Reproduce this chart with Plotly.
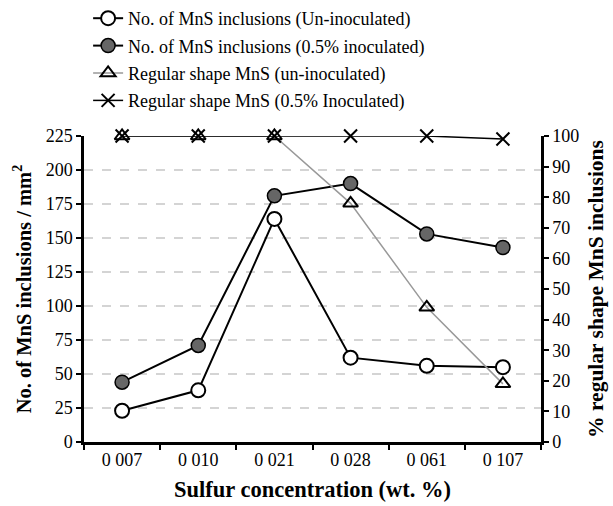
import plotly.graph_objects as go

categories = ["0 007", "0 010", "0 021", "0 028", "0 061", "0 107"]
mns_uninoc = [23, 38, 164, 62, 56, 55]
mns_inoc = [44, 71, 181, 190, 153, 143]
regular_uninoc = [100, 100, 100, 78, 44, 19]
regular_inoc = [100, 100, 100, 100, 100, 99]

names = [
    "No. of MnS inclusions (Un-inoculated)",
    "No. of MnS inclusions (0.5% inoculated)",
    "Regular shape MnS (un-inoculated)",
    "Regular shape MnS (0.5% Inoculated)",
]

serif = "'Liberation Serif', 'DejaVu Serif', 'Noto Serif', Tinos, 'Times New Roman', Times, serif"

fig = go.Figure()
fig.add_trace(go.Scatter(
    x=categories, y=mns_uninoc, name=names[0], mode="lines+markers",
    line=dict(color="black", width=2),
    marker=dict(symbol="circle", size=14, color="white", line=dict(color="black", width=2)),
    cliponaxis=False, legendgroup="a", yaxis="y"))
fig.add_trace(go.Scatter(
    x=categories, y=mns_inoc, name=names[1], mode="lines+markers",
    line=dict(color="black", width=2),
    marker=dict(symbol="circle", size=14, color="#666666", line=dict(color="black", width=1.5)),
    cliponaxis=False, legendgroup="b", yaxis="y"))
fig.add_trace(go.Scatter(
    x=categories, y=regular_uninoc, name=names[2], mode="lines+markers",
    line=dict(color="#999999", width=1.5),
    marker=dict(symbol="triangle-up-open", size=13, color="black", line=dict(color="black", width=2)),
    cliponaxis=False, legendgroup="c", yaxis="y2"))
fig.add_trace(go.Scatter(
    x=categories, y=regular_inoc, name=names[3], mode="lines+markers",
    line=dict(color="black", width=1.5),
    marker=dict(symbol="x-thin", size=13, color="black", line=dict(color="black", width=2)),
    cliponaxis=False, legendgroup="d", yaxis="y2"))

fig.update_layout(
    width=613, height=506,
    margin=dict(l=84, r=72, t=136, b=64, autoexpand=False),
    paper_bgcolor="white", plot_bgcolor="white",
    font=dict(family=serif, size=18, color="black"),
    showlegend=True,
    legend=dict(x=0.009, y=1.0, xanchor="left", yanchor="top", yref="container",
                font=dict(family=serif, size=18, color="black"),
                tracegroupgap=1, itemwidth=30, bgcolor="rgba(0,0,0,0)"),
    xaxis=dict(
        type="category", range=[-0.5, 5.5],
        showline=True, linecolor="black", linewidth=2.5,
        ticks="outside", tickson="boundaries", ticklen=5, tickwidth=2, tickcolor="black",
        showgrid=False, zeroline=False,
        tickfont=dict(family=serif, size=18),
        title=dict(text="<b>Sulfur concentration (wt. %)</b>", font=dict(family=serif, size=22.5), standoff=12),
    ),
    yaxis=dict(
        range=[0, 225], dtick=25, tick0=0,
        showline=True, linecolor="black", linewidth=2.5,
        ticks="outside", ticklen=5, tickwidth=2, tickcolor="black",
        showgrid=True, gridcolor="#d4d4d4", griddash="dash", gridwidth=1.5,
        zeroline=False,
        tickfont=dict(family=serif, size=18),
        title=dict(text="<b>No. of MnS inclusions / mm<sup>2</sup></b>", font=dict(family=serif, size=20.5), standoff=9),
    ),
    yaxis2=dict(
        overlaying="y", side="right",
        range=[0, 100], dtick=10, tick0=0,
        showline=True, linecolor="black", linewidth=2.5,
        ticks="outside", ticklen=5, tickwidth=2, tickcolor="black",
        showgrid=False, zeroline=False,
        tickfont=dict(family=serif, size=18),
        title=dict(text="<b>% regular shape MnS inclusions</b>", font=dict(family=serif, size=21.5), standoff=10),
    ),
)

fig.write_html("out.html")
